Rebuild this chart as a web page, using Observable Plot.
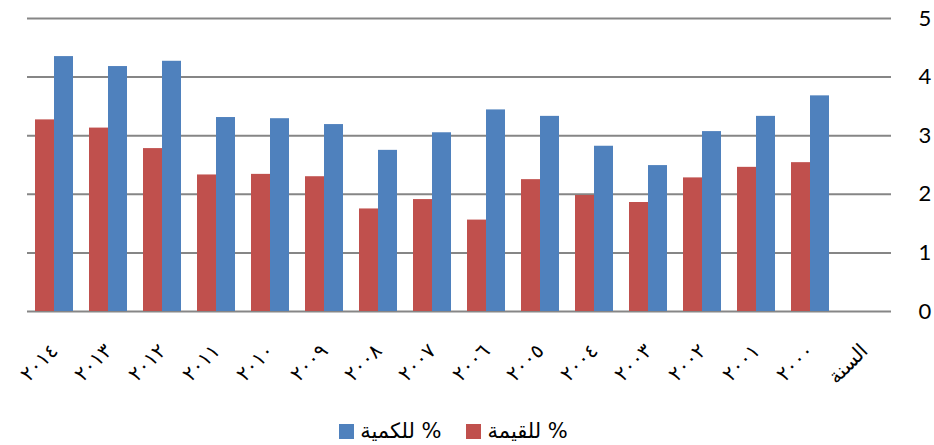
<!DOCTYPE html>
<html lang="ar">
<head>
<meta charset="utf-8">
<script src="https://cdn.jsdelivr.net/npm/d3@7"></script>
<script src="https://cdn.jsdelivr.net/npm/@observablehq/plot@0.6"></script>
<style>
  html, body { margin: 0; padding: 0; background: #ffffff; }
  #chart { width: 934px; }
  .share-chart g[aria-label="fx-axis tick label"] text {
    font-family: "DejaVu Sans", sans-serif;
    font-size: 20px;
  }
  .share-chart g[aria-label="y-axis tick label"] text {
    font-family: Lato, "Open Sans", sans-serif;
    font-size: 22px;
  }
  .legend {
    display: flex;
    justify-content: center;
    align-items: center;
    gap: 25px;
    width: 934px;
    box-sizing: border-box;
    padding-right: 27px;
    margin-top: 14px;
    font-family: "DejaVu Sans", sans-serif;
    font-size: 21px;
    color: #000;
  }
  .legend .item { display: flex; align-items: center; gap: 6px; }
  .legend .swatch { width: 15px; height: 15px; display: inline-block; }
</style>
</head>
<body>
<div id="chart"></div>
<script>
// Categories, left to right (years run right-to-left, the axis title sits at the far right)
const years = ["٢٠١٤", "٢٠١٣", "٢٠١٢", "٢٠١١", "٢٠١٠", "٢٠٠٩", "٢٠٠٨", "٢٠٠٧",
               "٢٠٠٦", "٢٠٠٥", "٢٠٠٤", "٢٠٠٣", "٢٠٠٢", "٢٠٠١", "٢٠٠٠"];
const yearTitle = "السنة";
const categories = [...years, yearTitle];

// Series names and values (percent), in the same order as years
const seriesNames = ["% للقيمة", "% للكمية"];
const valueShare = [3.27, 3.13, 2.78, 2.33, 2.34, 2.30, 1.75, 1.91, 1.56, 2.25, 1.98, 1.86, 2.28, 2.46, 2.54];
const quantityShare = [4.35, 4.18, 4.27, 3.31, 3.29, 3.19, 2.75, 3.05, 3.44, 3.33, 2.82, 2.49, 3.07, 3.33, 3.68];
const seriesColors = ["#C0504D", "#4F81BD"];

const yTicks = [0, 1, 2, 3, 4, 5];

// Long-format rows for the grouped bars; the title column holds no values
const rows = [
  ...years.flatMap((year, i) => [
    {year, series: seriesNames[0], value: valueShare[i]},
    {year, series: seriesNames[1], value: quantityShare[i]}
  ]),
  {year: yearTitle, series: seriesNames[0], value: null}
];

const chart = Plot.plot({
  className: "share-chart",
  width: 934,
  height: 405,
  marginTop: 18,
  marginBottom: 94,
  marginLeft: 27,
  marginRight: 43,
  style: {background: "#ffffff", color: "#000000", overflow: "visible"},
  fx: {
    domain: categories,
    padding: 0,
    label: null,
    tickSize: 0,
    tickPadding: 36,
    tickRotate: -45
  },
  x: {domain: seriesNames, paddingInner: 0, paddingOuter: 0.4, axis: null},
  y: {
    domain: [0, 5],
    ticks: yTicks,
    tickFormat: d3.format("d"),
    axis: "right",
    label: null,
    tickSize: 0,
    tickPadding: 27
  },
  color: {domain: seriesNames, range: seriesColors},
  marks: [
    Plot.ruleY(yTicks, {stroke: "#868686", strokeWidth: 2}),
    Plot.barY(rows, {fx: "year", x: "series", y: "value", fill: "series"})
  ]
});

document.getElementById("chart").appendChild(chart);

// Legend below the chart
const legend = document.createElement("div");
legend.className = "legend";
[1, 0].forEach(i => {
  const item = document.createElement("div");
  item.className = "item";
  const sw = document.createElement("span");
  sw.className = "swatch";
  sw.style.background = seriesColors[i];
  const label = document.createElement("span");
  label.dir = "rtl";
  label.textContent = seriesNames[i];
  item.appendChild(sw);
  item.appendChild(label);
  legend.appendChild(item);
});
document.getElementById("chart").appendChild(legend);
</script>
</body>
</html>
